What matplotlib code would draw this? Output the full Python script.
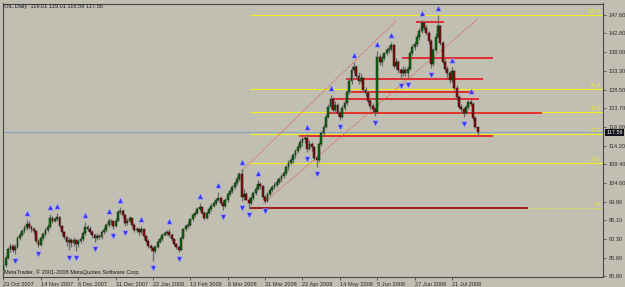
import matplotlib
matplotlib.use("Agg")
import matplotlib.pyplot as plt
import matplotlib.transforms as mtransforms
import numpy as np

# OIL daily bars, 23 Oct 2007 .. early Aug 2008
closes = [83.6, 85.6, 87.8, 88.6, 87.6, 88.4, 90.6, 91.4, 92.3, 93.1,
          94.2, 93.5, 93.0, 92.4, 89.9, 88.8, 90.6, 91.6, 92.6, 93.4,
          95.8, 95.0, 95.5, 96.0, 93.6, 92.0, 90.8, 89.6, 90.0, 89.2,
          90.1, 89.0, 89.7, 90.2, 91.8, 93.4, 93.0, 92.1, 91.4, 90.6,
          91.0, 90.8, 92.0, 92.6, 93.8, 95.0, 94.8, 93.6, 95.0, 97.2,
          97.6, 96.4, 94.4, 95.0, 95.6, 94.0, 92.6, 93.0, 92.0, 92.8,
          91.0, 89.9, 88.6, 88.0, 87.3, 88.3, 89.6, 90.2, 91.3, 91.9,
          92.2, 91.4, 90.2, 89.0, 88.4, 87.6, 90.6, 92.8, 93.6, 94.0,
          95.4, 96.4, 97.0, 98.0, 98.4, 97.0, 95.8, 97.0, 97.9, 98.8,
          99.4, 100.3, 100.8, 99.6, 98.8, 100.2, 101.8, 102.6, 103.6, 104.6,
          105.6, 106.8, 101.0, 101.8, 100.4, 99.5, 100.8, 102.0, 103.2, 104.4,
          103.9, 101.0, 100.1, 101.9, 102.8, 103.6, 104.1, 104.9, 105.6, 106.4,
          107.1, 108.6, 109.8, 110.4, 111.7, 112.7, 113.9, 115.0, 115.8, 116.0,
          113.2, 114.6, 113.8, 111.0, 110.4, 114.6, 117.4, 119.0, 121.6, 124.0,
          126.1, 123.3, 124.5, 122.4, 121.6, 123.9, 125.0, 127.8, 130.6, 133.4,
          134.2, 132.0, 130.7, 131.4, 128.4, 127.6, 125.6, 124.4, 123.6, 122.8,
          136.8, 135.6, 136.6, 137.8, 138.6, 138.9, 139.8, 134.6, 135.4, 133.4,
          132.6, 133.6, 132.6, 133.8, 137.8, 139.4, 140.0, 141.9, 143.4, 145.4,
          144.2, 143.0, 141.0, 135.0, 138.5, 142.0, 144.6, 140.3, 135.6, 133.8,
          132.6, 130.8, 133.2, 129.0, 126.5, 124.0, 123.4, 122.6, 124.0, 125.2,
          124.8, 121.3, 119.01, 117.56]
highs = [84.2, 86.2, 88.4, 89.4, 89.0, 89.0, 91.2, 92.0, 93.0, 93.8,
         95.2, 94.8, 94.0, 93.4, 92.6, 90.4, 91.0, 92.2, 93.2, 94.2,
         96.8, 96.2, 96.0, 96.9, 96.3, 94.0, 92.4, 91.2, 90.8, 90.6,
         90.8, 90.4, 90.4, 91.0, 92.4, 94.6, 94.0, 93.6, 92.6, 91.8,
         91.8, 91.6, 92.6, 93.4, 94.4, 95.6, 95.4, 95.0, 95.6, 97.8,
         98.4, 98.0, 96.8, 95.6, 96.2, 95.8, 94.4, 93.3, 93.2, 93.6,
         93.0, 91.4, 90.2, 89.0, 88.6, 88.8, 90.2, 90.8, 91.8, 92.4,
         92.6, 93.0, 91.8, 90.6, 89.4, 88.6, 91.0, 93.2, 94.2, 94.8,
         95.8, 97.0, 97.6, 98.6, 99.6, 98.8, 97.4, 97.6, 98.4, 99.4,
         100.0, 100.8, 102.2, 101.4, 100.2, 100.8, 102.2, 103.2, 104.2, 105.2,
         106.4, 107.4, 108.2, 103.0, 102.4, 101.0, 101.4, 102.6, 103.8, 105.4,
         105.0, 104.2, 101.6, 102.4, 103.4, 104.2, 104.8, 105.6, 106.2, 107.0,
         107.8, 109.2, 110.4, 111.2, 112.4, 113.4, 114.6, 115.8, 116.4, 116.6,
         117.2, 115.6, 115.2, 114.2, 111.8, 115.0, 118.0, 119.8, 122.2, 124.8,
         127.0, 126.6, 125.6, 125.0, 123.0, 124.6, 125.8, 128.4, 131.4, 134.4,
         135.4, 134.8, 133.0, 132.6, 131.8, 129.2, 128.2, 126.2, 125.0, 124.0,
         138.4, 137.6, 137.4, 138.2, 139.4, 139.8, 140.6, 140.0, 136.6, 136.0,
         134.0, 134.4, 134.2, 134.4, 138.4, 140.0, 140.8, 142.6, 144.2, 146.3,
         146.0, 145.0, 143.4, 141.4, 139.2, 142.8, 147.5, 145.0, 141.0, 136.2,
         134.4, 133.2, 134.2, 133.6, 129.6, 127.0, 124.8, 124.0, 124.6, 125.8,
         126.2, 125.2, 121.8, 119.01]
lows = [81.8, 83.2, 85.2, 87.0, 87.0, 86.6, 88.0, 90.0, 91.0, 91.8,
        92.7, 92.9, 92.2, 91.6, 89.3, 88.2, 88.5, 90.0, 91.2, 92.2,
        93.2, 94.4, 94.6, 95.0, 93.2, 91.4, 90.2, 88.6, 87.4, 88.4,
        88.6, 87.2, 88.2, 89.2, 89.8, 91.4, 92.4, 91.6, 90.6, 89.6,
        90.0, 90.2, 90.4, 91.6, 92.2, 93.4, 94.0, 93.0, 93.3, 94.8,
        96.8, 95.8, 93.6, 93.9, 94.6, 93.4, 92.0, 92.2, 91.4, 91.6,
        90.4, 89.3, 88.0, 87.2, 84.8, 86.8, 88.0, 89.2, 89.8, 91.0,
        91.4, 90.8, 89.8, 88.6, 87.8, 87.0, 87.4, 90.2, 92.4, 93.2,
        93.6, 95.0, 96.0, 96.6, 97.6, 96.6, 95.2, 95.4, 96.6, 97.4,
        98.4, 99.0, 100.0, 99.0, 97.8, 98.6, 99.8, 101.2, 102.0, 103.0,
        104.2, 105.2, 100.0, 100.4, 100.2, 98.2, 99.0, 100.4, 101.6, 102.8,
        103.0, 100.6, 99.4, 99.8, 101.4, 102.2, 103.2, 103.6, 104.4, 105.0,
        105.8, 106.6, 108.0, 109.4, 109.8, 111.0, 112.2, 113.4, 114.2, 114.8,
        112.6, 113.0, 112.9, 110.5, 108.6, 110.0, 114.2, 116.8, 118.6, 121.2,
        123.6, 122.6, 122.8, 121.8, 120.6, 121.2, 123.2, 124.6, 127.4, 130.0,
        132.6, 131.4, 130.0, 130.2, 127.8, 126.8, 125.0, 123.6, 122.8, 121.8,
        122.6, 134.8, 134.6, 136.0, 137.2, 137.8, 138.4, 134.0, 133.8, 132.6,
        131.2, 132.0, 132.0, 131.4, 133.4, 137.2, 138.6, 139.6, 141.2, 143.0,
        143.6, 142.4, 140.2, 134.0, 134.6, 138.0, 141.6, 139.8, 135.0, 133.2,
        131.8, 130.2, 130.4, 128.4, 125.8, 123.4, 122.4, 121.4, 122.2, 123.6,
        124.2, 120.8, 118.6, 116.59]
first_open = 82.4

up_fractals = [10, 20, 23, 35, 45, 50, 59, 71, 84, 92, 102, 109, 130, 140,
               150, 160, 166, 179, 186, 192, 200]
down_fractals = [5, 15, 28, 31, 39, 47, 52, 64, 75, 94, 102, 105, 112, 130,
                 134, 144, 159, 170, 173, 183, 197]

date_labels = ["23 Oct 2007", "14 Nov 2007", "6 Dec 2007", "31 Dec 2007",
               "22 Jan 2008", "13 Feb 2008", "6 Mar 2008", "31 Mar 2008",
               "22 Apr 2008", "14 May 2008", "5 Jun 2008", "27 Jun 2008",
               "21 Jul 2008"]
date_label_step = 16
price_ticks = [147.60, 142.80, 138.00, 133.30, 128.50, 123.70, 119.00, 114.20,
               109.40, 104.60, 99.90, 95.10, 90.30, 85.60, 80.80]

# drawn objects: horizontal levels (price, first bar, last bar)
red_levels = [(145.8, 177, 188), (136.5, 171, 209), (131.1, 147, 205),
              (127.9, 149, 201), (126.0, 141, 203), (122.4, 139, 230),
              (116.6, 127, 209)]
support_level = (98.2, 105.5, 224)
# channel lines (bar, price) -> (bar, price)
channel_lines = [((102, 107.7), (168, 146.0)),
                 ((111, 99.3), (203, 146.5))]
fib_low, fib_high, fib_start = 98.2, 147.5, 105.5
fib_ratios = [0.0, 23.6, 38.2, 50.0, 61.8, 100.0]
bid = 117.56

assert len(closes) == len(highs) == len(lows)
n = len(closes)
x = np.arange(n)
opens = [first_open] + closes[:-1]

bg = "#c1bfb2"
fig = plt.figure(figsize=(6.25, 2.87), dpi=100)
fig.patch.set_facecolor(bg)
ax = fig.add_axes([2.5 / 625, (287 - 276.7) / 287, 600.2 / 625, 273.2 / 287])
ax.set_facecolor(bg)
ax.set_xlim(-0.4, 256.5)
ax.set_ylim(80.7, 150.46)
blend = mtransforms.blended_transform_factory(ax.transAxes, ax.transData)

# fibonacci levels
for r in fib_ratios:
    lv = fib_low + (fib_high - fib_low) * r / 100.0
    ls = ":" if r == 0.0 else "-"
    ax.plot([fib_start, 256.5], [lv, lv], color="#f0ee1e", lw=0.8, ls=ls, zorder=1)
    ax.text(0.997, lv + 0.25, "%.1f" % r, transform=blend,
            ha="right", va="bottom", color="#f0ee1e", fontsize=3.8, family="Liberation Sans")

# bid line
ax.axhline(bid, color="#86a3c4", lw=0.8, zorder=1)

# horizontal levels
for lv, a, b in red_levels:
    ax.plot([a, b], [lv, lv], color="#e8141e", lw=1.4, alpha=0.85, zorder=2)
ax.plot([support_level[1], support_level[2]], [support_level[0]] * 2,
        color="#a01818", lw=1.4, zorder=2)

# channel
for (x0, y0), (x1, y1) in channel_lines:
    ax.plot([x0, x1], [y0, y1], color="#e04848", lw=0.6, ls=(0, (1.2, 1.2)), zorder=2)

# candles
ax.vlines(x, lows, highs, color="#6a6a6a", lw=0.9, zorder=3)
o = np.array(opens)
c = np.array(closes)
up = c >= o
body = np.where(np.abs(c - o) < 0.15, 0.15, c - o)
ax.bar(x[up], body[up], bottom=o[up], width=0.8, color="#0b6b0b",
       edgecolor="#142414", lw=0.35, zorder=4)
ax.bar(x[~up], body[~up], bottom=o[~up], width=0.8, color="#8c0d0d",
       edgecolor="#240a0a", lw=0.35, zorder=4)

# fractals
h = np.array(highs)
l = np.array(lows)
ax.scatter(up_fractals, h[up_fractals] + 1.8, marker="^", s=15, color="#3535f5",
           edgecolors="#a0a0ff", linewidths=0.4, zorder=5)
ax.scatter(down_fractals, l[down_fractals] - 1.8, marker="v", s=15, color="#3535f5",
           edgecolors="#a0a0ff", linewidths=0.4, zorder=5)

# axes styling
for s in ax.spines.values():
    s.set_color("#4a4a4a")
    s.set_linewidth(0.8)
ax.yaxis.tick_right()
ax.set_yticks(price_ticks)
ax.set_yticklabels(["%.2f" % p for p in price_ticks])
ax.set_xticks(np.arange(len(date_labels)) * date_label_step)
ax.set_xticklabels(date_labels, ha="left")
ax.tick_params(axis="both", length=2.5, width=0.6, color="#4a4a4a",
               labelsize=4.1, labelcolor="#2a2a2a", pad=1.5)
for t in ax.get_xticklabels() + ax.get_yticklabels():
    t.set_family("Liberation Sans")

ax.text(1.006, bid, "%.2f" % bid, transform=blend,
        ha="left", va="center", color="white", fontsize=4, family="Liberation Sans",
        bbox=dict(facecolor="#101018", edgecolor="none", pad=0.8), clip_on=False, zorder=6)

fig.text(4 / 625, 1 - 6.5 / 287, "OIL,Daily  %.2f %.2f %.2f %.2f" % (opens[-1], highs[-1], lows[-1], closes[-1]),
         ha="left", va="center", fontsize=4.1, color="#1a1a2a", family="Liberation Sans")
ax.text(0.002, 0.006, "MetaTrader, \u00a9 2001-2008 MetaQuotes Software Corp.", transform=ax.transAxes,
        ha="left", va="bottom", fontsize=4.1, color="#1a1a1a", family="Liberation Sans")

fig.savefig("out.png", dpi=100, facecolor=bg)
